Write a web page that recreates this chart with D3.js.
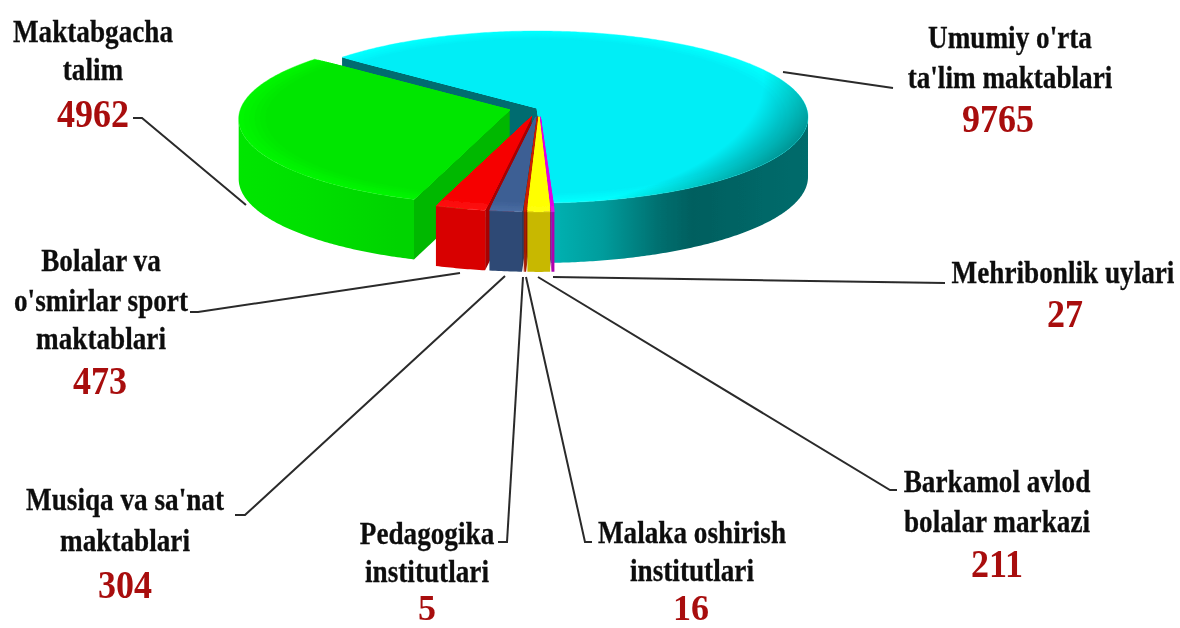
<!DOCTYPE html>
<html>
<head>
<meta charset="utf-8">
<script src="https://cdn.jsdelivr.net/npm/d3@7"></script>
<style>
  html, body { margin: 0; padding: 0; background: #fff; }
  svg { display: block; }
</style>
</head>
<body>
<div id="chart-wrapper"></div>
<script>
// Data, clockwise starting from the big slice
const labelLines = [
  ["Umumiy o'rta", "ta'lim maktablari"],
  ["Mehribonlik uylari"],
  ["Barkamol avlod", "bolalar markazi"],
  ["Malaka oshirish", "institutlari"],
  ["Pedagogika", "institutlari"],
  ["Musiqa va sa'nat", "maktablari"],
  ["Bolalar va", "o'smirlar sport", "maktablari"],
  ["Maktabgacha", "talim"]
]
const values = [9765, 27, 211, 16, 5, 304, 473, 4962]
const exploded = [false, true, true, true, true, true, true, true]

// Colours per slice
const topColors = ["#00eef6", "#e000e0", "#ffff00", "#c81e00", "#c81e00", "#3d5f94", "#f60000", "#00e600"]
const rimColors = ["#00ffff", "#ea10ea", "#ffff10", "#d02000", "#d02000", "#4a6ca2", "#ff1212", "#00f600"]
const wallColors = ["#006b6b", "#b000b0", "#c8b800", "#a81c00", "#a81c00", "#2f4a74", "#d80000", "#00dc00"]
const cutColors = ["#006c70", "#8a008a", "#a09400", "#8a1500", "#8a1500", "#263d60", "#a80000", "#00b800"]

// Layout of the labels: centre x, baselines of the text lines, baseline of the number
const labelPos = [
  {x: 1010, lines: [48, 88], num: 132, numX: 998},
  {x: 1063, lines: [283], num: 327, numX: 1065},
  {x: 997, lines: [492, 532], num: 577, numX: 997},
  {x: 692, lines: [543, 581], num: 620, numX: 691, numSize: 36},
  {x: 427, lines: [544, 582], num: 620, numX: 427, numSize: 36},
  {x: 125, lines: [510, 551], num: 598, numX: 125},
  {x: 101, lines: [271, 311, 349], num: 394, numX: 100},
  {x: 93, lines: [42, 80], num: 127, numX: 93}
]
const leaders = [
  [[783, 72], [893, 88]],
  [[553, 277], [945, 283]],
  [[538, 277], [890, 490], [897, 490]],
  [[526, 277], [585, 542], [592, 542]],
  [[523, 277], [507, 542], [498, 542]],
  [[505, 276], [245, 515], [235, 515]],
  [[460, 273], [198, 312], [190, 312]],
  [[133, 118], [142, 118], [246, 205]]
]

const width = 1180
const height = 628
const apex = {x: 537, y: 108}
const ellipse = {cx: 537, cy: 117, rx: 271, ry: 86}
const depth = 60
const explodeDist = 28
const frontShift = 2
const startAngle = -46 * Math.PI / 180

const svg = d3.select("#chart-wrapper")
  .append("svg")
  .attr("width", width)
  .attr("height", height)

const defs = svg.append("defs")
const soft = defs.append("filter").attr("id", "soft").attr("x", "-5%").attr("y", "-5%").attr("width", "110%").attr("height", "110%")
soft.append("feGaussianBlur").attr("stdDeviation", 0.6)

// Pie angles from d3
const pie = d3.pie().sort(null).value(d => d.value).startAngle(startAngle).endAngle(startAngle + 2 * Math.PI)
const slices = pie(values.map((value, i) => ({value, i})))

const line = d3.line().x(d => d[0]).y(d => d[1])

// Point on the top face, r = 0 is the apex and r = 1 the rim
const project = (a, r) => {
  const px = ellipse.cx + ellipse.rx * Math.sin(a)
  const py = ellipse.cy - ellipse.ry * Math.cos(a)
  return [apex.x + (px - apex.x) * r, apex.y + (py - apex.y) * r]
}
const arcPoints = (a0, a1, r) => {
  const n = Math.max(2, Math.ceil((a1 - a0) * 90))
  return d3.range(n + 1).map(k => project(a0 + (a1 - a0) * k / n, r))
}
const down = pts => pts.map(p => [p[0], p[1] + depth])

// Gradients for the walls
const addGradient = (id, x1, x2, stops) => {
  const g = defs.append("linearGradient").attr("id", id)
    .attr("gradientUnits", "userSpaceOnUse")
    .attr("x1", x1).attr("x2", x2).attr("y1", 0).attr("y2", 0)
  stops.forEach(s => g.append("stop").attr("offset", s[0]).attr("stop-color", s[1]))
}
addGradient("wall0", 552, 808, [[0, "#00b2b2"], [0.2, "#009c9c"], [0.42, "#006f6f"], [0.55, "#005f5f"], [1, "#006c6c"]])
addGradient("wall7", 241, 425, [[0, "#00e800"], [0.5, "#00e000"], [1, "#00d400"]])

// Darker edge on the right of the big slice
const shade = defs.append("radialGradient").attr("id", "shade")
  .attr("gradientUnits", "userSpaceOnUse")
  .attr("cx", 0).attr("cy", 0).attr("r", 1)
  .attr("gradientTransform", "translate(440,80) scale(385,165)")
shade.append("stop").attr("offset", 0.84).attr("stop-color", "#008080").attr("stop-opacity", 0)
shade.append("stop").attr("offset", 1).attr("stop-color", "#008080").attr("stop-opacity", 0.85)

const pieGroup = svg.append("g").attr("filter", "url(#soft)")

// Back to front
const drawOrder = [0, 7, 6, 5, 4, 3, 1, 2]
drawOrder.forEach(i => {
  const s = slices[i]
  const mid = (s.startAngle + s.endAngle) / 2
  const dx = exploded[i] ? explodeDist * Math.sin(mid) + (i == 7 ? 0 : frontShift) : 0
  const dy = exploded[i] ? -explodeDist * Math.cos(mid) * ellipse.ry / ellipse.rx : 0
  const g = pieGroup.append("g").attr("transform", `translate(${dx},${dy})`)

  // Cut faces, only the ones that look towards the viewer
  const cuts = []
  if (Math.sin(s.startAngle) < 0) cuts.push(s.startAngle)
  if (Math.sin(s.endAngle) > 0) cuts.push(s.endAngle)
  cuts.forEach(a => {
    const p = project(a, 1)
    g.append("path")
      .attr("d", line([[apex.x, apex.y], p, [p[0], p[1] + depth], [apex.x, apex.y + depth]]) + "Z")
      .attr("fill", cutColors[i])
  })

  // Outer wall, front half of the rim only
  const a0 = Math.max(s.startAngle, Math.PI / 2)
  const a1 = Math.min(s.endAngle, Math.PI * 1.5)
  if (a1 > a0) {
    const rim = arcPoints(a0, a1, 1)
    const wallFill = (i == 0 || i == 7) ? `url(#wall${i})` : wallColors[i]
    g.append("path")
      .attr("d", line(rim.concat(down(rim).reverse())) + "Z")
      .attr("fill", wallFill)
  }

  // Top face with a soft bevel towards the rim
  const color = d3.scaleLinear().domain([1, 0.9]).range([rimColors[i], topColors[i]]).interpolate(d3.interpolateRgb)
  ;[1, 0.98, 0.96, 0.94, 0.92, 0.9].forEach(r => {
    g.append("path")
      .attr("d", line([[apex.x, apex.y]].concat(arcPoints(s.startAngle, s.endAngle, r))) + "Z")
      .attr("fill", color(r))
      .attr("stroke", color(r))
      .attr("stroke-width", 0.4)
      .attr("stroke-linejoin", "round")
  })

  if (i == 0) {
    g.append("path")
      .attr("d", line([[apex.x, apex.y]].concat(arcPoints(s.startAngle, s.endAngle, 1))) + "Z")
      .attr("fill", "url(#shade)")
  }
})

// Leader lines
svg.append("g").attr("filter", "url(#soft)")
  .selectAll("path")
  .data(leaders)
  .join("path")
  .attr("d", d => line(d))
  .attr("fill", "none")
  .attr("stroke", "#2a2a2a")
  .attr("stroke-width", 2)

// Labels, the original type is tall and a bit condensed
const labels = svg.append("g")
  .attr("filter", "url(#soft)")
  .attr("font-family", "Liberation Serif")
  .attr("font-weight", "bold")
  .attr("text-anchor", "middle")
labelLines.forEach((rows, i) => {
  const pos = labelPos[i]
  rows.forEach((row, k) => {
    labels.append("text")
      .attr("transform", `translate(${pos.x},${pos.lines[k]}) scale(0.85,1)`)
      .attr("font-size", 32)
      .attr("fill", "#111")
      .attr("stroke", "#111")
      .attr("stroke-width", 0.3)
      .text(row)
  })
  const numSize = pos.numSize || 40
  labels.append("text")
    .attr("transform", `translate(${pos.numX},${pos.num}) scale(${36 / numSize},1)`)
    .attr("font-size", numSize)
    .attr("fill", "#a80e0e")
    .text(values[i])
})
</script>
</body>
</html>
